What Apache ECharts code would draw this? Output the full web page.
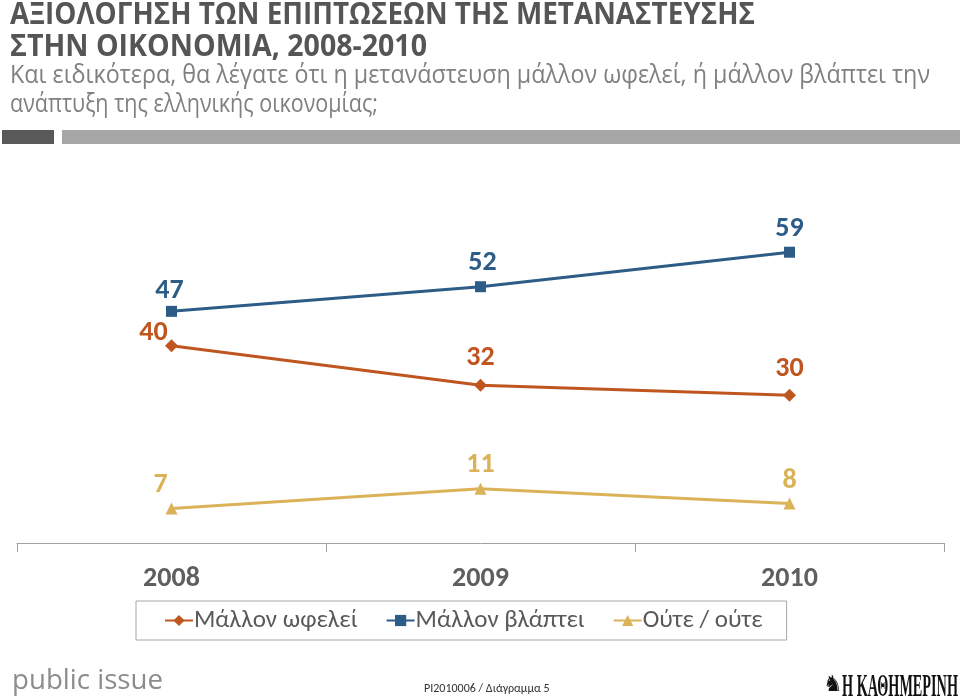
<!DOCTYPE html>
<html><head><meta charset="utf-8">
<script src="https://cdn.jsdelivr.net/npm/echarts@6/dist/echarts.min.js"></script>
<style>html,body{margin:0;padding:0;background:#fff}#c{width:960px;height:700px}</style>
</head><body><div id="c"></div>
<script>
const years = ['2008', '2009', '2010'];
const seriesNames = ['Μάλλον ωφελεί', 'Μάλλον βλάπτει', 'Ούτε / ούτε'];
const benefit = [40, 32, 30];
const harm = [47, 52, 59];
const neither = [7, 11, 8];
const titleLine1 = 'ΑΞΙΟΛΟΓΗΣΗ ΤΩΝ ΕΠΙΠΤΩΣΕΩΝ ΤΗΣ ΜΕΤΑΝΑΣΤΕΥΣΗΣ';
const titleLine2 = 'ΣΤΗΝ ΟΙΚΟΝΟΜΙΑ, 2008-2010';
const subLine1 = 'Και ειδικότερα, θα λέγατε ότι η μετανάστευση μάλλον ωφελεί, ή μάλλον βλάπτει την';
const subLine2 = 'ανάπτυξη της ελληνικής οικονομίας;';
const footerCode = 'PI2010006 / Διάγραμμα 5';
const logoLeft = 'public issue';
const logoRight = 'Η ΚΑΘΗΜΕΡΙΝΗ';

const BODY = 'Carlito, "Open Sans", "Noto Sans", sans-serif';
const colors = ['#C0561F', '#2D5C87', '#DAB258'];

const measureCtx = document.createElement('canvas').getContext('2d');
function fitText(text, font, x, y, targetWidth, fill) {
  measureCtx.font = font;
  const w = measureCtx.measureText(text).width;
  return { type: 'text', x: x, y: y, scaleX: targetWidth / w, scaleY: 1,
    style: { text: text, font: font, fill: fill, verticalAlign: 'top' } };
}

function withOffsets(vals, offsets) {
  return vals.map((v, i) => ({ value: v, label: { offset: offsets[i] } }));
}

const TITLE_FONT = 'bold 31px "Open Sans", "Noto Sans", sans-serif';
const SUB_FONT = '25px "Open Sans", "Noto Sans", sans-serif';

const chart = echarts.init(document.getElementById('c'), null, { renderer: 'canvas' });
const labelBase = { show: true, position: 'top', distance: 3, fontFamily: BODY, fontWeight: 'bold', fontSize: 28 };

chart.setOption({
  animation: false,
  color: colors,
  graphic: [
    fitText(titleLine1, TITLE_FONT, 10, 0, 745, '#555555'),
    fitText(titleLine2, TITLE_FONT, 10, 32, 417, '#555555'),
    fitText(subLine1, SUB_FONT, 10, 63, 920, '#808080'),
    fitText(subLine2, SUB_FONT, 10, 92, 368, '#808080'),
    { type: 'rect', shape: { x: 2, y: 130, width: 52, height: 14 }, style: { fill: '#595959' } },
    { type: 'rect', shape: { x: 62, y: 130, width: 898, height: 14 }, style: { fill: '#A6A6A6' } },
    fitText(logoLeft, '28px "Open Sans", sans-serif', 12, 667, 151, '#8c8c8c'),
    { type: 'text', left: 424, top: 683, style: { text: footerCode, font: '12px ' + BODY, fill: '#333' } },
    { type: 'text', x: 823, y: 674, style: { text: '♞', font: '22px "DejaVu Sans", sans-serif', fill: '#111', verticalAlign: 'top' } },
    fitText(logoRight, 'bold 31px "Liberation Serif", serif', 842, 672, 116, '#111')
  ],
  legend: {
    data: seriesNames,
    left: 136, top: 601,
    padding: [7, 24, 7, 28],
    itemGap: 28, itemWidth: 28, itemHeight: 14,
    borderColor: '#A6A6A6', borderWidth: 1,
    textStyle: { fontFamily: BODY, fontSize: 25, color: '#595959', padding: [0, 0, 0, -4] }
  },
  grid: { left: 17, right: 16, top: 198, bottom: 157 },
  xAxis: {
    type: 'category', data: years, boundaryGap: true,
    axisLine: { lineStyle: { color: '#A0A0A0', width: 1 } },
    axisTick: { show: true, length: 9, lineStyle: { color: '#A0A0A0' } },
    axisLabel: { fontFamily: BODY, fontSize: 28, fontWeight: 'bold', color: '#5f5f5f', margin: 22 }
  },
  yAxis: { type: 'value', min: 0, max: 70, show: false, splitLine: { show: false } },
  series: [
    { name: seriesNames[0], type: 'line', data: withOffsets(benefit, [[-18, 11], [0, -4], [0, -3]]),
      symbol: 'diamond', symbolSize: 13, lineStyle: { width: 3 },
      label: Object.assign({ color: colors[0] }, labelBase) },
    { name: seriesNames[1], type: 'line', data: withOffsets(harm, [[-2, 2], [2, -1], [0, -1]]),
      symbol: 'rect', symbolSize: 11, lineStyle: { width: 3 },
      label: Object.assign({ color: colors[1] }, labelBase) },
    { name: seriesNames[2], type: 'line', data: withOffsets(neither, [[-11, -1], [0, -1], [0, 0]]),
      symbol: 'triangle', symbolSize: 12, lineStyle: { width: 3 },
      label: Object.assign({ color: colors[2] }, labelBase) }
  ]
});
</script>
</body></html>
